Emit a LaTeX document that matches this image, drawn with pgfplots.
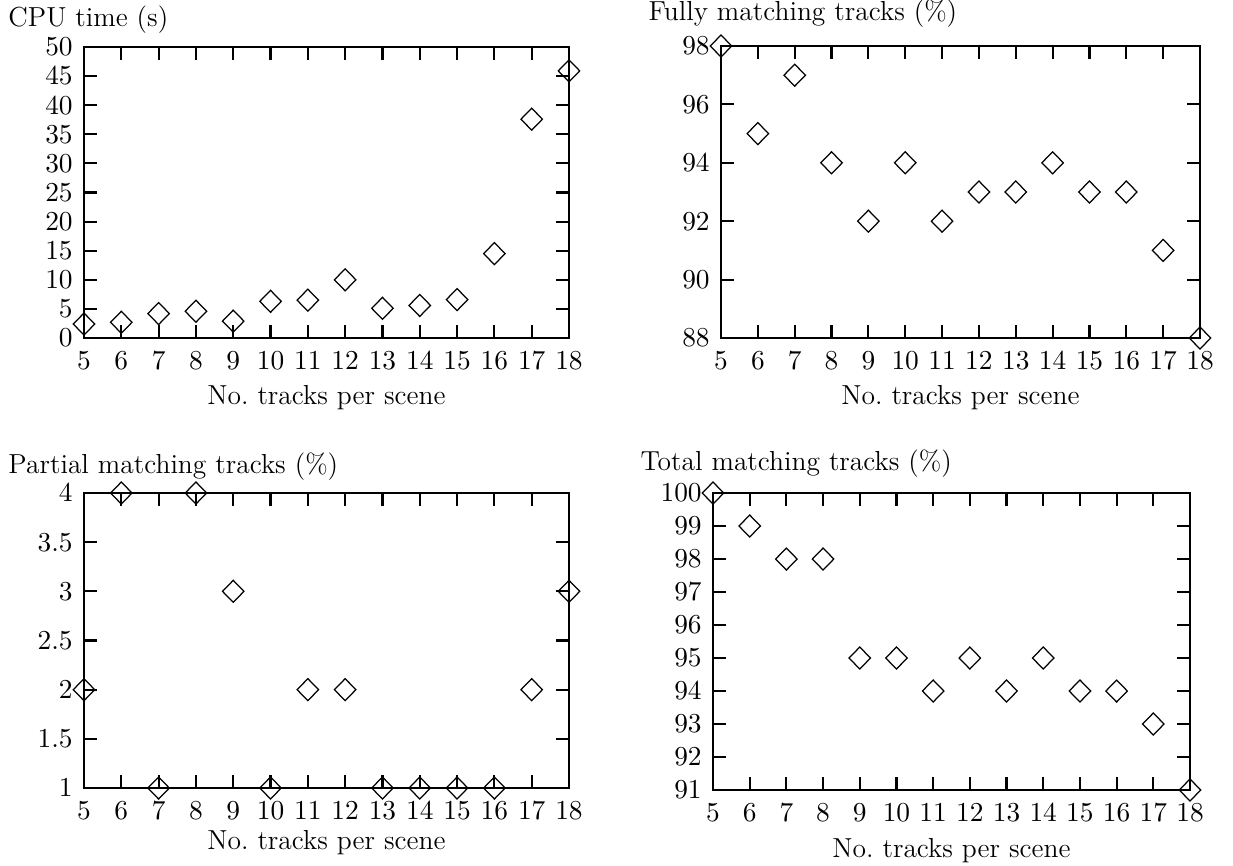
\documentclass[border=0pt]{standalone}
\usepackage{pgfplots}
\pgfplotsset{compat=1.18}
\pgfplotsset{
  myax/.style={
    scale only axis,
    clip=false,
    font=\fontsize{11}{13}\selectfont,
    xmin=5, xmax=18,
    xtick={5,6,...,18},
    tick align=inside,
    major tick length=5.2pt,
    axis line style={line width=0.85pt},
    every tick/.style={line width=0.85pt, black},
    xticklabel style={yshift=-2pt},
    yticklabel style={xshift=-1pt},
    xlabel={No.\ tracks per scene},
  },
  dia/.style={only marks, mark=diamond, mark size=4.4pt, black, mark options={line width=0.5pt, xscale=1.3, fill=none}},
}
\begin{document}
\begin{tikzpicture}
\path[use as bounding box] (0,0) rectangle (493.2pt,-346pt);
% CPU
\begin{axis}[myax, at={(33.6pt,-135.2pt)}, anchor=south west,
  width=194pt, height=116.4pt, xlabel style={yshift=0.6pt},
  ymin=0, ymax=50, ytick={0,5,...,50}]
\addplot[dia] coordinates {(5,2.4) (6,2.7) (7,4.2) (8,4.6) (9,2.9) (10,6.3) (11,6.5) (12,10.0) (13,5.1) (14,5.6) (15,6.6) (16,14.5) (17,37.6) (18,45.9)};
\end{axis}
% Fully
\begin{axis}[myax, at={(288.4pt,-135.2pt)}, anchor=south west,
  width=191.6pt, height=116.8pt, xlabel style={yshift=0.6pt},
  ymin=88, ymax=98, ytick={88,90,...,98}]
\addplot[dia] coordinates {(5,98) (6,95) (7,97) (8,94) (9,92) (10,94) (11,92) (12,93) (13,93) (14,94) (15,93) (16,93) (17,91) (18,88)};
\end{axis}
% Partial
\begin{axis}[myax, at={(33.6pt,-315.2pt)}, anchor=south west,
  width=194pt, height=118pt, xlabel style={yshift=2.6pt},
  ymin=1, ymax=4, ytick={1,1.5,...,4}]
\addplot[dia] coordinates {(5,2) (6,4) (7,1) (8,4) (9,3) (10,1) (11,2) (12,2) (13,1) (14,1) (15,1) (16,1) (17,2) (18,3)};
\end{axis}
% Total
\begin{axis}[myax, at={(285.2pt,-316pt)}, anchor=south west,
  width=190.8pt, height=118.8pt, xlabel style={yshift=0.2pt},
  ymin=91, ymax=100, ytick={91,92,...,100}]
\addplot[dia] coordinates {(5,100) (6,99) (7,98) (8,98) (9,95) (10,95) (11,94) (12,95) (13,94) (14,95) (15,94) (16,94) (17,93) (18,91)};
\end{axis}
\begin{scope}[font=\fontsize{11}{13}\selectfont]
\node[anchor=west, inner sep=0pt] at (3.2pt,-8pt) {CPU time (s)};
\node[anchor=west, inner sep=0pt] at (259.2pt,-5.6pt) {Fully matching tracks (\%)};
\node[anchor=west, inner sep=0pt] at (3.2pt,-186.6pt) {Partial matching tracks (\%)};
\node[anchor=west, inner sep=0pt] at (256pt,-185.6pt) {Total matching tracks (\%)};
\end{scope}
\end{tikzpicture}
\end{document}
